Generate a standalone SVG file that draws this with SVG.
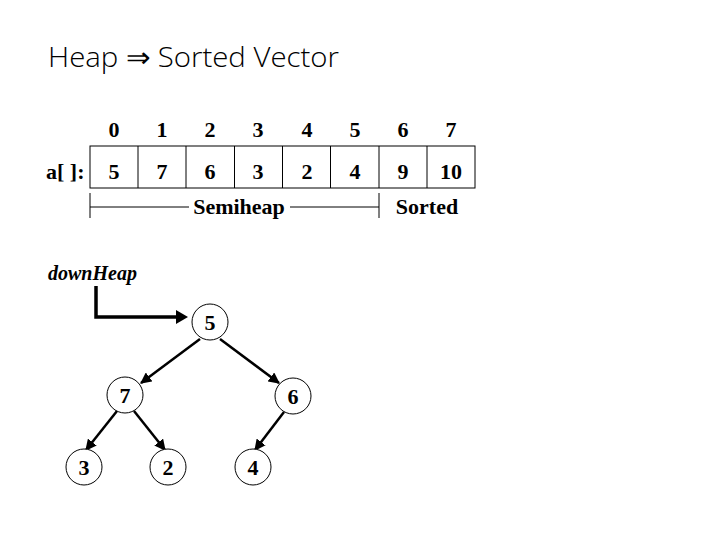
<svg xmlns="http://www.w3.org/2000/svg" width="720" height="540" viewBox="0 0 720 540">
<defs>
<style>
.t{font-family:"Liberation Serif","Times New Roman",serif;font-weight:bold;font-size:22px;fill:#000}
.c{text-anchor:middle}
.box{fill:none;stroke:#000;stroke-width:1}
.ln{stroke:#000;stroke-width:1;fill:none}
.node{fill:#fff;stroke:#000;stroke-width:1}
.edge{stroke:#000;stroke-width:2.5;fill:none;marker-end:url(#ah)}
</style>
<marker id="ah" viewBox="0 0 10 10" refX="9" refY="5" markerWidth="4.5" markerHeight="4.5" orient="auto" markerUnits="strokeWidth">
<path d="M0,0 L10,5 L0,10 z" fill="#000"/>
</marker>
</defs>
<rect width="720" height="540" fill="#fff"/>
<text x="48" y="67" font-family="'Open Sans','Noto Sans',sans-serif" font-weight="300" font-size="28" textLength="291" lengthAdjust="spacingAndGlyphs">Heap ⇒ Sorted Vector</text>

<g id="array">
<g class="t c">
<text x="114" y="137">0</text><text x="162" y="137">1</text><text x="210" y="137">2</text><text x="258" y="137">3</text><text x="307" y="137">4</text><text x="355" y="137">5</text><text x="403" y="137">6</text><text x="451" y="137">7</text>
</g>
<text class="t" x="46" y="179">a[ ]:</text>
<rect class="box" x="90" y="146" width="385" height="42"/>
<path class="ln" d="M138,146V188M186,146V188M234.5,146V188M282.5,146V188M330.5,146V188M379,146V188M427,146V188"/>
<g class="t c">
<text x="114" y="179">5</text><text x="162" y="179">7</text><text x="210" y="179">6</text><text x="258" y="179">3</text><text x="307" y="179">2</text><text x="355" y="179">4</text><text x="403" y="179">9</text><text x="451" y="179">10</text>
</g>
<path class="ln" d="M90,193V218M379,193V218M90,207H189M290,207H379"/>
<text class="t c" x="239" y="214">Semiheap</text>
<text class="t c" x="427" y="214">Sorted</text>
</g>

<text class="t" x="48" y="280" style="font-style:italic;font-size:20px">downHeap</text>

<g id="connectors">
<path d="M96,286V317H178" stroke="#000" stroke-width="3.5" fill="none"/>
<path d="M176,310L188,317L176,324z" fill="#000"/>
<line class="edge" x1="200" y1="339" x2="141" y2="383"/>
<line class="edge" x1="220" y1="339" x2="279" y2="383"/>
<line class="edge" x1="117" y1="411" x2="86" y2="450"/>
<line class="edge" x1="134" y1="411" x2="165" y2="450"/>
<line class="edge" x1="284" y1="412" x2="255" y2="450"/>
</g>

<g id="n5"><circle class="node" cx="210" cy="322" r="18"/><text class="t c" x="210" y="330">5</text></g>
<g id="n7"><circle class="node" cx="125" cy="395" r="18"/><text class="t c" x="125" y="403">7</text></g>
<g id="n6"><circle class="node" cx="293" cy="396" r="18"/><text class="t c" x="293" y="404">6</text></g>
<g id="n3"><circle class="node" cx="84" cy="467" r="18"/><text class="t c" x="84" y="475">3</text></g>
<g id="n2"><circle class="node" cx="168" cy="467" r="18"/><text class="t c" x="168" y="475">2</text></g>
<g id="n4"><circle class="node" cx="253" cy="467" r="18"/><text class="t c" x="253" y="475">4</text></g>
</svg>
